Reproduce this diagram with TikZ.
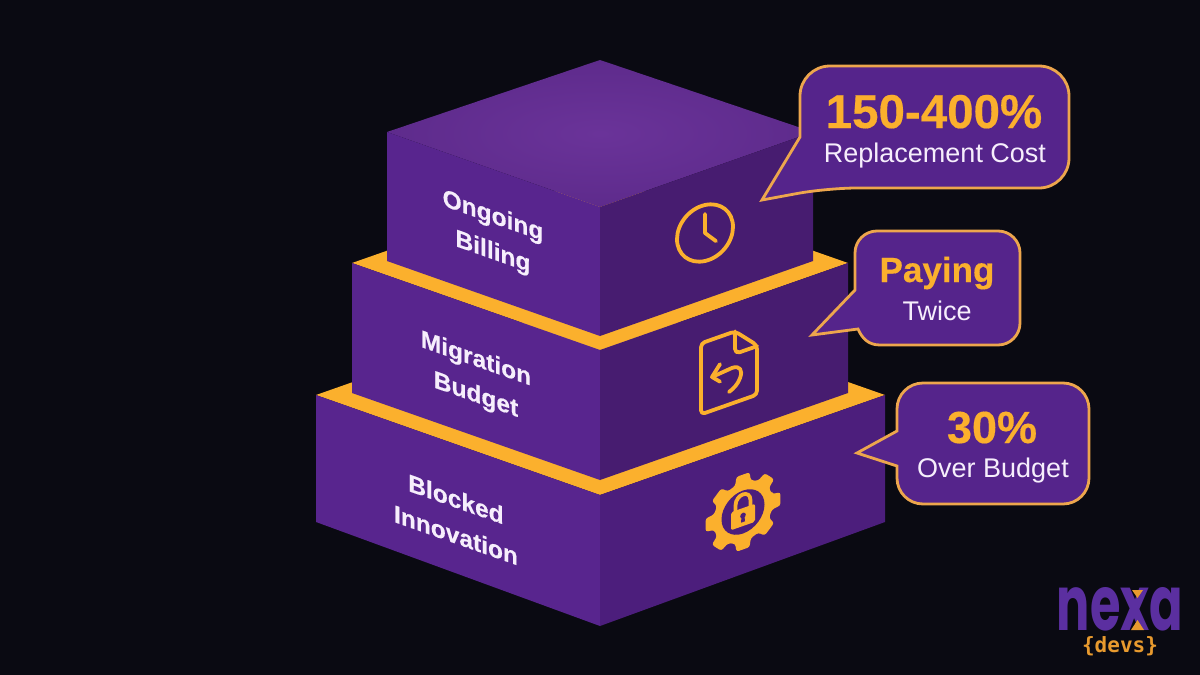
\documentclass[tikz,border=0pt]{standalone}
\usepackage{fontspec}
\setmainfont{Liberation Sans}
\newfontfamily\heavyfont[BoldFont={Liberation Sans Bold},BoldFeatures={FakeBold=0.35}]{Liberation Sans}
\newfontfamily\logofont{Poppins}
\newfontfamily\monofam{DejaVu Sans Mono}
\definecolor{bgc}{HTML}{0A0A12}
\definecolor{topf}{HTML}{6A3399}
\definecolor{topo}{HTML}{5E2B8C}
\definecolor{leftf}{HTML}{58258E}
\definecolor{rightf}{HTML}{471C70}
\definecolor{rightb}{HTML}{4C1E7C}
\definecolor{gold}{HTML}{FBB02D}
\definecolor{edge}{HTML}{EDA64D}
\definecolor{bub}{HTML}{55248B}
\definecolor{txt}{HTML}{F6EEFC}
\definecolor{logop}{HTML}{5B2FA0}
\definecolor{logoo}{HTML}{E89A2E}
\tikzset{
  bubble/.style={fill=bub,draw=edge,line width=2.8pt,line join=miter},
  lbl/.style={text=txt,font=\heavyfont\fontsize{24.5}{36}\selectfont\bfseries,align=center,transform shape,yslant=-0.352,inner sep=0},
  head/.style={text=gold,font=\heavyfont\fontsize{#1}{#1}\selectfont\bfseries,inner sep=0,anchor=base},
  sub/.style={text=txt,font=\fontsize{#1}{#1}\selectfont,inner sep=0,anchor=base},
  ico/.style={draw=gold,line width=3.8pt,line cap=round,line join=round},
}
\begin{document}
\begin{tikzpicture}[x=1pt,y=-1pt]
\useasboundingbox (0,0) rectangle (1200,675);
\fill[bgc] (0,0) rectangle (1200,675);
% bottom tier
\fill[gold] (316,395) -- (600,295) -- (885,395) -- (600,495) -- cycle;
\fill[leftf] (316,395) -- (600,495) -- (600,626) -- (316,522) -- cycle;
\fill[rightb] (600,495) -- (885,395) -- (885,522) -- (600,626) -- cycle;
% middle tier
\fill[gold] (352,263) -- (600,176) -- (848,263) -- (600,350) -- cycle;
\fill[leftf] (352,263) -- (600,350) -- (600,480) -- (352,393) -- cycle;
\fill[rightf] (600,350) -- (848,263) -- (848,393) -- (600,480) -- cycle;
% top tier
\shade[inner color=topf,outer color=topo] (387,132) -- (600,60) -- (813,132) -- (600,207) -- cycle;
\fill[leftf] (387,132) -- (600,207) -- (600,336) -- (387,261) -- cycle;
\fill[rightf] (600,207) -- (813,132) -- (813,261) -- (600,336) -- cycle;
% labels
\node[lbl] (ongoing) at (493,235) {Ongoing\\Billing};
\node[lbl] (migration) at (476,378) {Migration\\Budget};
\node[lbl] (blocked) at (456,517) {Blocked\\Innovation};
% clock
\begin{scope}[shift={(705,233)},yslant=0.22]
  \draw[ico] (0,0) circle[radius=28];
\end{scope}
\begin{scope}[shift={(705,233)},yslant=0.352]
  \draw[ico] (0,-19) -- (0,0) -- (11,12);
\end{scope}
% file
\begin{scope}[shift={(729,369)},yslant=0.352]
  \draw[ico,rounded corners=4pt] (6,-35.5) -- (-28,-35.5) -- (-28,35.5) -- (28,35.5) -- (28,-14) -- cycle;
  \draw[ico,rounded corners=5pt] (6,-35.5) -- (6,-13) -- (28,-13);
  \draw[ico] (-9,-8) -- (-17,2) -- (-9,9.5);
  \draw[ico] (-17,2) -- (3,0) .. controls (11,0) and (14,6) .. (11,13) .. controls (9,18) and (5,21) .. (0,23);
\end{scope}
% gear
\begin{scope}[shift={(743,512)},yslant=0.352]
  \fill[gold,rounded corners=2.5pt]
    (-15:30) \foreach \a in {0,45,...,315} {
      -- (\a-15:30) -- (\a-10:38) -- (\a+10:38) -- (\a+15:30)
    } -- cycle;
  \fill[rightb] (0,0) circle[radius=21.5];
  \draw[gold,line width=3.8pt] (-7.5,-3) -- (-7.5,-9) .. controls (-7.5,-20.5) and (7.5,-20.5) .. (7.5,-9) -- (7.5,-3);
  \fill[gold,rounded corners=2pt] (-12,-4) rectangle (12,14);
  \fill[rightb] (0,3.5) circle[radius=2.8];
  \fill[rightb] (-1.4,3.5) -- (1.4,3.5) -- (2,10) -- (-2,10) -- cycle;
\end{scope}
% bubbles
\path[bubble] (762,200) -- (800,137) [rounded corners=30pt] -- (800,66) -- (1069,66) -- (1069,188) -- (827,188) [sharp corners] -- cycle;
\path[bubble] (812,335) -- (855,290) [rounded corners=22pt] -- (855,231) -- (1020,231) -- (1020,345) [sharp corners] -- (880,345) .. controls (868,345) and (862,338) .. (858,329) -- cycle;
\path[bubble] (857,453) -- (897,431) [rounded corners=26pt] -- (897,383) -- (1089,383) -- (1089,504) -- (897,504) [sharp corners] -- (897,466) -- cycle;
\node[head=47.5] (t1) at (934,128) {150-400\%};
\node[sub=27] (s1) at (935,162) {Replacement Cost};
\node[head=35] (t2) at (937,282) {Paying};
\node[sub=27] (s2) at (937,320) {Twice};
\node[head=45] (t3) at (992,443) {30\%};
\node[sub=27] (s3) at (993,477) {Over Budget};
% logo
\node[text=logop,font=\logofont\fontsize{76}{76}\selectfont\bfseries,inner sep=0,xscale=0.65,transform shape,anchor=base] (nexa) at (1120,630) {nexa};
\fill[logoo] (1132,590) -- (1143,590) -- (1137.5,598) -- cycle;
\fill[logoo] (1131,630) -- (1144,630) -- (1137.5,620) -- cycle;
\node[text=logoo,font=\monofam\fontsize{21}{21}\selectfont\bfseries,inner sep=0,anchor=base] (devs) at (1120,652) {\{devs\}};
\end{tikzpicture}
\end{document}
